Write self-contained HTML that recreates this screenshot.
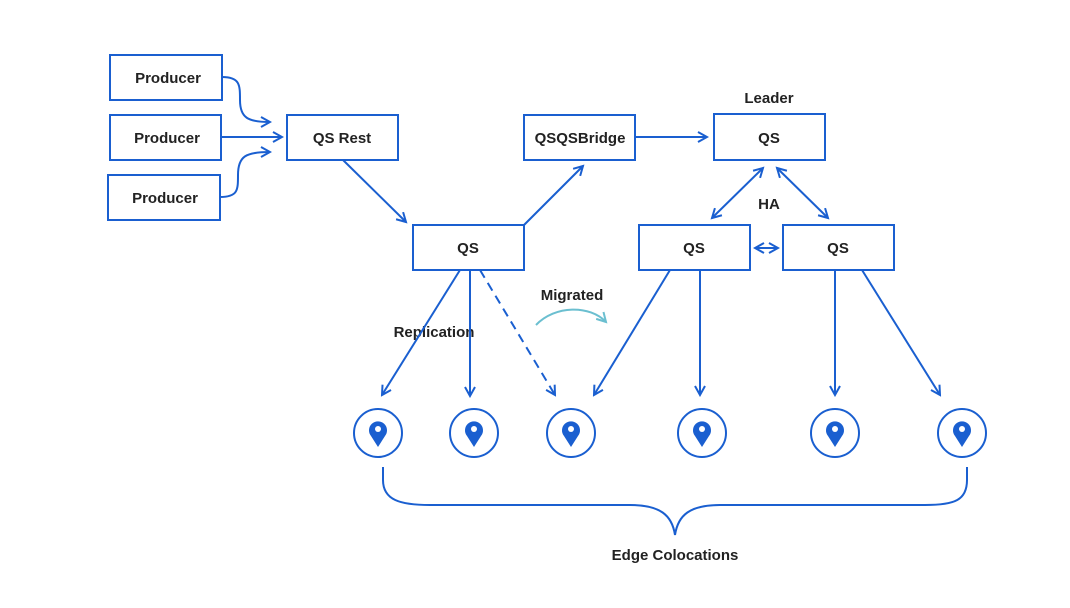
<!DOCTYPE html>
<html><head><meta charset="utf-8"><style>
html,body{margin:0;padding:0;background:#fff;}
svg{display:block;font-family:"Liberation Sans",sans-serif;}
text{font-weight:bold;font-size:15px;fill:#222;text-anchor:middle;}
</style></head><body>
<svg width="1070" height="608" viewBox="0 0 1070 608" xmlns="http://www.w3.org/2000/svg">
<defs>
<marker id="a" viewBox="0 0 12 12" refX="10" refY="6" markerWidth="12" markerHeight="12" markerUnits="userSpaceOnUse" orient="auto-start-reverse">
<path d="M1,1 L10,6 L1,11" fill="none" stroke="#1a5fd0" stroke-width="2"/>
</marker>
<marker id="t" viewBox="0 0 12 12" refX="10" refY="6" markerWidth="12" markerHeight="12" markerUnits="userSpaceOnUse" orient="auto">
<path d="M1,1 L10,6 L1,11" fill="none" stroke="#6bbfd0" stroke-width="2"/>
</marker>
<g id="pin">
<circle r="24" fill="none" stroke="#1a5fd0" stroke-width="2"/>
<path d="M0,14 L-7,3 A9,9 0 1 1 7,3 Z" fill="#1a5fd0"/>
<circle cy="-4" r="3" fill="#fff"/>
</g>
</defs>
<g fill="#fff" stroke="#1a5fd0" stroke-width="2">
<rect x="110" y="55" width="112" height="45"/>
<rect x="110" y="115" width="111" height="45"/>
<rect x="108" y="175" width="112" height="45"/>
<rect x="287" y="115" width="111" height="45"/>
<rect x="413" y="225" width="111" height="45"/>
<rect x="524" y="115" width="111" height="45"/>
<rect x="714" y="114" width="111" height="46"/>
<rect x="639" y="225" width="111" height="45"/>
<rect x="783" y="225" width="111" height="45"/>
</g>
<text x="168" y="83">Producer</text>
<text x="167" y="143">Producer</text>
<text x="165" y="203">Producer</text>
<text x="342" y="143">QS Rest</text>
<text x="468" y="253">QS</text>
<text x="580" y="143">QSQSBridge</text>
<text x="769" y="143">QS</text>
<text x="769" y="103">Leader</text>
<text x="694" y="253">QS</text>
<text x="838" y="253">QS</text>
<text x="769" y="209">HA</text>
<text x="434" y="337">Replication</text>
<text x="572" y="300">Migrated</text>
<text x="675" y="560">Edge Colocations</text>
<g fill="none" stroke="#1a5fd0" stroke-width="2">
<path d="M222,77 C240,77 240,85 240,100 C240,118 248,122 270,122" marker-end="url(#a)"/>
<path d="M221,137 L282,137" marker-end="url(#a)"/>
<path d="M220,197 C238,197 238,190 238,175 C238,156 246,152 270,152" marker-end="url(#a)"/>
<path d="M343,160 L406,222" marker-end="url(#a)"/>
<path d="M524,225 L583,166" marker-end="url(#a)"/>
<path d="M635,137 L707,137" marker-end="url(#a)"/>
<path d="M763,168 L712,218" marker-start="url(#a)" marker-end="url(#a)"/>
<path d="M777,168 L828,218" marker-start="url(#a)" marker-end="url(#a)"/>
<path d="M755,248 L778,248" marker-start="url(#a)" marker-end="url(#a)"/>
<path d="M460,270 L382,395" marker-end="url(#a)"/>
<path d="M470,270 L470,396" marker-end="url(#a)"/>
<path d="M480,270 L555,395" stroke-dasharray="9,6" marker-end="url(#a)"/>
<path d="M670,270 L594,395" marker-end="url(#a)"/>
<path d="M700,270 L700,395" marker-end="url(#a)"/>
<path d="M835,270 L835,395" marker-end="url(#a)"/>
<path d="M862,270 L940,395" marker-end="url(#a)"/>
<path d="M383,467 L383,480 C383,500 400,505 430,505 L630,505 C660,505 672,515 675,535 C678,515 690,505 720,505 L925,505 C955,505 967,500 967,480 L967,467"/>
</g>
<path d="M536,325 C555,305 590,305 606,322" fill="none" stroke="#6bbfd0" stroke-width="2" marker-end="url(#t)"/>
<use href="#pin" x="378" y="433"/>
<use href="#pin" x="474" y="433"/>
<use href="#pin" x="571" y="433"/>
<use href="#pin" x="702" y="433"/>
<use href="#pin" x="835" y="433"/>
<use href="#pin" x="962" y="433"/>
</svg>
</body></html>
